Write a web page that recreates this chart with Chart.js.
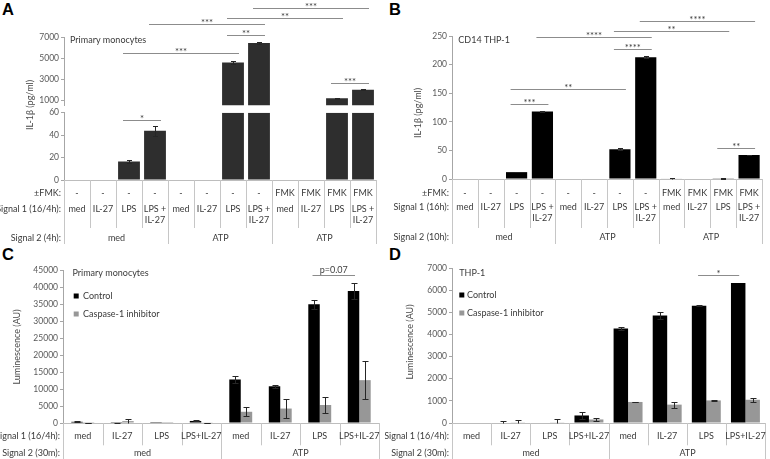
<!DOCTYPE html>
<html><head><meta charset="utf-8">
<script src="https://cdn.jsdelivr.net/npm/chart.js"></script>
<style>
html,body{margin:0;padding:0;background:#fff;width:770px;height:459px;overflow:hidden}
canvas{position:absolute;display:block}
.letter{position:absolute;font:bold 16.5px "Liberation Sans",Arial,sans-serif;line-height:1;color:#000}
</style></head><body>
<div class="letter" style="left:2px;top:1px">A</div>
<div class="letter" style="left:389px;top:1px">B</div>
<div class="letter" style="left:2px;top:246px">C</div>
<div class="letter" style="left:389px;top:246px">D</div>
<canvas id="cA" width="385" height="252" style="left:0;top:0"></canvas>
<canvas id="cB" width="385" height="252" style="left:385px;top:0"></canvas>
<canvas id="cC" width="385" height="207" style="left:0;top:252px"></canvas>
<canvas id="cD" width="385" height="207" style="left:385px;top:252px"></canvas>
<script>
// ---------------- DATA ----------------
// Panel A: primary monocytes, IL-1beta (pg/ml)
const signal1A = ['med','IL-27','LPS',['LPS +','IL-27'],'med','IL-27','LPS',['LPS +','IL-27'],'med','IL-27','LPS',['LPS +','IL-27']];
const fmkA = ['-','-','-','-','-','-','-','-','FMK','FMK','FMK','FMK'];
const signal2A = [{label:'med',first:0,last:3},{label:'ATP',first:4,last:7},{label:'ATP',first:8,last:11}];
const il1bA = [0,0,16.6,44,0,0,4580,6430,0,0,1160,1970];
const il1bErrA = [0,0,1.3,4.4,0,0,180,140,0,0,40,40];
const ticksALow = [0,20,40,60];
const ticksAHigh = [1000,3000,5000,7000];
const breakA = {lowMax:60, highMin:500, highMax:7000};
const sigA = [
  {from:2,to:3,axis:'yLow',y:53.5,label:'*'},
  {from:2,to:6,axis:'yHigh',y:5450,label:'***'},
  {from:6,to:7,axis:'yHigh',y:7190,label:'**'},
  {from:3,to:7,axis:'yHigh',y:8240,label:'***'},
  {from:6,to:10,axis:'yHigh',y:8780,label:'**'},
  {from:7,to:11,axis:'yHigh',y:9730,label:'***'},
  {from:10,to:11,axis:'yHigh',y:2590,label:'***'}
];

// Panel B: CD14 THP-1, IL-1beta (pg/ml)
const signal1B = ['med','IL-27','LPS',['LPS +','IL-27'],'med','IL-27','LPS',['LPS +','IL-27'],'med','IL-27','LPS',['LPS +','IL-27']];
const fmkB = ['-','-','-','-','-','-','-','-','FMK','FMK','FMK','FMK'];
const signal2B = [{label:'med',first:0,last:3},{label:'ATP',first:4,last:7},{label:'ATP',first:8,last:11}];
const il1bB = [0,0,12,118,0,0,52,213,0.8,0,1.2,42];
const il1bErrB = [0,0,0.5,0.8,0,0,1.5,2,0.8,0,1,0.8];
const ticksB = [0,50,100,150,200,250];
const sigB = [
  {from:2,to:3,axis:'y',y:130.7,label:'***'},
  {from:2,to:6,axis:'y',y:156.8,label:'**'},
  {from:6,to:7,axis:'y',y:227,label:'****'},
  {from:3,to:7,axis:'y',y:248.4,label:'****'},
  {from:6,to:10,axis:'y',y:258.4,label:'**'},
  {from:7,to:11,axis:'y',y:275.8,label:'****'},
  {from:10,to:11,axis:'y',y:55,label:'**'}
];

// Panel C: primary monocytes, luminescence (AU)
const signal1C = ['med','IL-27','LPS','LPS+IL-27','med','IL-27','LPS','LPS+IL-27'];
const signal2C = [{label:'med',first:0,last:3},{label:'ATP',first:4,last:7}];
const controlC = [350,50,30,600,12800,10800,34900,38800];
const controlErrC = [150,50,0,150,1100,500,1400,2300];
const caspaseC = [50,550,30,100,3300,4250,5300,12600];
const caspaseErrC = [40,700,0,40,1300,2800,2450,5600];
const ticksC = [0,5000,10000,15000,20000,25000,30000,35000,40000,45000];
const sigC = [{from:6,to:7,axis:'y',y:43540,label:'p=0.07'}];

// Panel D: THP-1, luminescence (AU)
const signal1D = ['med','IL-27','LPS','LPS+IL-27','med','IL-27','LPS','LPS+IL-27'];
const signal2D = [{label:'med',first:0,last:3},{label:'ATP',first:4,last:7}];
const controlD = [0,0,0,340,4270,4860,5300,6320];
const controlErrD = [0,110,0,150,70,150,20,0];
const caspaseD = [0,30,30,160,950,830,1020,1050];
const caspaseErrD = [0,100,130,80,10,130,10,80];
const ticksD = [0,1000,2000,3000,4000,5000,6000,7000];
const sigD = [{from:6,to:7,axis:'y',y:6671,label:'*'}];

// ---------------- DRAWING ----------------
const FONT = 'Lato, "Open Sans", sans-serif';
Chart.defaults.font.family = FONT;

function makeAnnot(cfg) {
  return {
    id: 'annot' + cfg.key,
    afterDatasetsDraw(chart) {
      const ctx = chart.ctx, a = chart.chartArea, xs = chart.scales.x;
      const n = chart.data.labels.length;
      const cx = i => xs.getPixelForValue(i);
      const half = (cx(1) - cx(0)) / 2;
      const px = v => Math.round(v) + 0.5;
      const line = (x1, y1, x2, y2) => { ctx.beginPath(); ctx.moveTo(x1, y1); ctx.lineTo(x2, y2); ctx.stroke(); };
      ctx.save();
      ctx.lineWidth = 1;
      // error bars
      ctx.strokeStyle = '#262626';
      chart.data.datasets.forEach((ds, di) => {
        if (!ds.errors) return;
        const meta = chart.getDatasetMeta(di);
        const ys = chart.scales[meta.yAxisID];
        meta.data.forEach((el, i) => {
          const v = ds.data[i], e = ds.errors[i];
          if (v == null || !e) return;
          const x = px(el.x);
          const top = px(ys.getPixelForValue(v + e));
          const lowV = v - e;
          const bot = px(ys.getPixelForValue(Math.max(lowV, ys.min)));
          line(x, bot, x, top);
          line(x - cfg.cap - 0.5, top, x + cfg.cap + 0.5, top);
          if (lowV > ys.min) line(x - cfg.cap - 0.5, bot, x + cfg.cap + 0.5, bot);
        });
      });
      // significance brackets
      ctx.strokeStyle = '#8c8c8c';
      ctx.fillStyle = '#404040';
      ctx.textAlign = 'center';
      ctx.textBaseline = 'alphabetic';
      cfg.brackets.forEach(b => {
        const ys = chart.scales[b.axis];
        const y = px(ys.getPixelForValue(b.y));
        let x1, x2;
        if (cfg.bracketDs != null) {
          const m = chart.getDatasetMeta(cfg.bracketDs);
          x1 = m.data[b.from].x - cfg.bPad; x2 = m.data[b.to].x + cfg.bPad;
        } else { x1 = cx(b.from) - cfg.bPad; x2 = cx(b.to) + cfg.bPad; }
        line(x1, y, x2, y);
        const star = b.label.startsWith('*');
        ctx.font = (star ? 9.5 : 9) + 'px ' + FONT;
        ctx.fillText(b.label, (x1 + x2) / 2, y + (star ? 1.5 : -3));
      });
      // table
      const t = cfg.table;
      const edge = i => px(i < n ? cx(i) - half : cx(n - 1) + half);
      ctx.strokeStyle = '#c6c6c6';
      for (let i = 0; i <= n; i++) line(edge(i), a.bottom, edge(i), a.bottom + t.sepEnd);
      t.groups.forEach(g => {
        line(edge(g.first), a.bottom, edge(g.first), a.bottom + t.gBot);
        line(edge(g.last + 1), a.bottom, edge(g.last + 1), a.bottom + t.gBot);
      });
      ctx.fillStyle = '#3a3a3a';
      ctx.font = t.size + 'px ' + FONT;
      ctx.textBaseline = 'middle';
      ctx.textAlign = 'center';
      t.rows.forEach(r => {
        r.cells.forEach((c, i) => {
          const ls = Array.isArray(c) ? c : [c];
          ls.forEach((s, k) => ctx.fillText(s, cx(i), a.bottom + r.y + k * t.lh));
        });
      });
      t.groups.forEach(g => ctx.fillText(g.label, (edge(g.first) + edge(g.last + 1)) / 2, a.bottom + t.gY));
      ctx.textAlign = 'right';
      t.rows.forEach(r => ctx.fillText(r.head, a.left - t.headGap, a.bottom + r.y));
      ctx.fillText(t.gHead, a.left - t.headGap, a.bottom + t.gY);
      // panel title and legend
      ctx.textAlign = 'left';
      ctx.font = cfg.titleSize + 'px ' + FONT;
      ctx.fillText(cfg.title, a.left + cfg.titleDx, a.top + cfg.titleDy);
      if (cfg.legend) {
        const L = cfg.legend;
        chart.data.datasets.forEach((ds, i) => {
          const y = a.top + L.dy + i * L.step;
          ctx.fillStyle = ds.backgroundColor;
          ctx.fillRect(a.left + L.dx, y - 2.5, 5, 5);
          ctx.fillStyle = '#3a3a3a';
          ctx.fillText(ds.label, a.left + L.dx + L.tx, y);
        });
      }
      // y axis title
      ctx.fillStyle = '#4a4a4a';
      ctx.font = cfg.yTitle.size + 'px ' + FONT;
      ctx.translate(cfg.yTitle.x, cfg.yTitle.y);
      ctx.rotate(-Math.PI / 2);
      ctx.textAlign = 'center';
      ctx.fillText(cfg.yTitle.text, 0, 0);
      ctx.restore();
    }
  };
}

function xOpts() {
  return {
    type: 'category',
    grid: {display: false, drawTicks: false},
    border: {display: true, color: '#bdbdbd'},
    ticks: {display: false},
    afterFit: s => { s.height = 0; }
  };
}
function yOpts(width, tickVals, extra) {
  return Object.assign({
    type: 'linear', position: 'left',
    grid: {display: true, drawOnChartArea: false, drawTicks: true, tickLength: 3, color: '#a6a6a6'},
    border: {display: true, color: '#a6a6a6'},
    ticks: {font: {size: 8.5, family: FONT}, color: '#595959', padding: 2, autoSkip: false, callback: v => String(v)},
    afterBuildTicks: s => { if (tickVals) s.ticks = tickVals.map(v => ({value: v})); },
    afterFit: s => { s.width = width; }
  }, extra);
}
const baseOpts = (padding) => ({
  responsive: false, animation: false, devicePixelRatio: 1,
  layout: {padding},
  plugins: {legend: {display: false}, tooltip: {enabled: false}}
});

// Panel A (broken axis)
new Chart(document.getElementById('cA'), {
  type: 'bar',
  data: {labels: signal1A, datasets: [
    {label: 'low', data: il1bA.map(v => Math.min(v, breakA.lowMax)),
     errors: il1bErrA.map((e, i) => il1bA[i] <= breakA.lowMax ? e : 0),
     yAxisID: 'yLow', grouped: false, backgroundColor: '#2e2e2e', barPercentage: 0.84, categoryPercentage: 1},
    {label: 'high', data: il1bA.map(v => v > breakA.lowMax ? v : null),
     errors: il1bErrA.map((e, i) => il1bA[i] > breakA.lowMax ? e : 0),
     yAxisID: 'yHigh', grouped: false, backgroundColor: '#2e2e2e', barPercentage: 0.84, categoryPercentage: 1}
  ]},
  options: Object.assign(baseOpts({left: 0, right: 9, top: 37, bottom: 72}), {
    scales: {
      x: xOpts(),
      yHigh: yOpts(64, ticksAHigh, {stack: 'a', stackWeight: 68.25, weight: 3, min: breakA.highMin, max: breakA.highMax}),
      yGap: {type: 'linear', position: 'left', stack: 'a', stackWeight: 7.45, weight: 2, min: 0, max: 1,
             ticks: {display: false}, grid: {display: false}, border: {display: false}, afterFit: s => { s.width = 64; }},
      yLow: yOpts(64, ticksALow, {stack: 'a', stackWeight: 67.3, weight: 1, min: 0, max: breakA.lowMax})
    }
  }),
  plugins: [makeAnnot({
    key: 'A', cap: 2, brackets: sigA, bPad: 6,
    title: 'Primary monocytes', titleSize: 9, titleDx: 6, titleDy: 3,
    yTitle: {text: 'IL-1β (pg/ml)', x: 30, y: 105, size: 9},
    table: {size: 9, lh: 10.7, headGap: 3, sepEnd: 48, gBot: 64, gY: 57.7, gHead: 'Signal 2 (4h):', groups: signal2A,
      rows: [{head: '±FMK:', cells: fmkA, y: 12.7}, {head: 'Signal 1 (16/4h):', cells: signal1A, y: 29.3}]}
  })]
});

// Panel B
new Chart(document.getElementById('cB'), {
  type: 'bar',
  data: {labels: signal1B, datasets: [
    {label: 'IL-1β', data: il1bB, errors: il1bErrB, backgroundColor: '#000', barPercentage: 0.82, categoryPercentage: 1}
  ]},
  options: Object.assign(baseOpts({left: 0, right: 8, top: 36, bottom: 73}), {
    scales: {x: xOpts(), y: yOpts(67, ticksB, {min: 0, max: 250})}
  }),
  plugins: [makeAnnot({
    key: 'B', cap: 2, brackets: sigB, bPad: 6,
    title: 'CD14 THP-1', titleSize: 9, titleDx: 6.3, titleDy: 4,
    yTitle: {text: 'IL-1β (pg/ml)', x: 33, y: 113, size: 9},
    table: {size: 9, lh: 10.7, headGap: 3, sepEnd: 49, gBot: 65, gY: 58, gHead: 'Signal 2 (10h):', groups: signal2B,
      rows: [{head: '±FMK:', cells: fmkB, y: 13.7}, {head: 'Signal 1 (16h):', cells: signal1B, y: 28.3}]}
  })]
});

// Panel C
new Chart(document.getElementById('cC'), {
  type: 'bar',
  data: {labels: signal1C, datasets: [
    {label: 'Control', data: controlC, errors: controlErrC, backgroundColor: '#000', barPercentage: 1, categoryPercentage: 0.58},
    {label: 'Caspase-1 inhibitor', data: caspaseC, errors: caspaseErrC, backgroundColor: '#979797', barPercentage: 1, categoryPercentage: 0.58}
  ]},
  options: Object.assign(baseOpts({left: 0, right: 6, top: 18, bottom: 36}), {
    scales: {x: xOpts(), y: yOpts(63, ticksC, {min: 0, max: 45000})}
  }),
  plugins: [makeAnnot({
    key: 'C', cap: 2.5, brackets: sigC, bPad: 1.5, bracketDs: 0,
    title: 'Primary monocytes', titleSize: 9, titleDx: 9.4, titleDy: 3.3,
    legend: {dx: 10.7, tx: 9.3, dy: 26, step: 18},
    yTitle: {text: 'Luminescence (AU)', x: 17, y: 95, size: 9},
    table: {size: 9, lh: 10.7, headGap: 3, sepEnd: 22.3, gBot: 37, gY: 30, gHead: 'Signal 2 (30m):', groups: signal2C,
      rows: [{head: 'Signal 1 (16/4h):', cells: signal1C, y: 13.3}]}
  })]
});

// Panel D
new Chart(document.getElementById('cD'), {
  type: 'bar',
  data: {labels: signal1D, datasets: [
    {label: 'Control', data: controlD, errors: controlErrD, backgroundColor: '#000', barPercentage: 1, categoryPercentage: 0.74},
    {label: 'Caspase-1 inhibitor', data: caspaseD, errors: caspaseErrD, backgroundColor: '#979797', barPercentage: 1, categoryPercentage: 0.74}
  ]},
  options: Object.assign(baseOpts({left: 0, right: 5, top: 16, bottom: 36}), {
    scales: {x: xOpts(), y: yOpts(67, ticksD, {min: 0, max: 7000})}
  }),
  plugins: [makeAnnot({
    key: 'D', cap: 2.5, brackets: sigD, bPad: 1, bracketDs: 0,
    title: 'THP-1', titleSize: 9, titleDx: 7.3, titleDy: 5,
    legend: {dx: 7.3, tx: 7.7, dy: 27, step: 18},
    yTitle: {text: 'Luminescence (AU)', x: 25, y: 90, size: 9},
    table: {size: 9, lh: 10.7, headGap: 3, sepEnd: 22.3, gBot: 37, gY: 30, gHead: 'Signal 2 (30m):', groups: signal2D,
      rows: [{head: 'Signal 1 (16/4h):', cells: signal1D, y: 13.3}]}
  })]
});
</script>
</body></html>
